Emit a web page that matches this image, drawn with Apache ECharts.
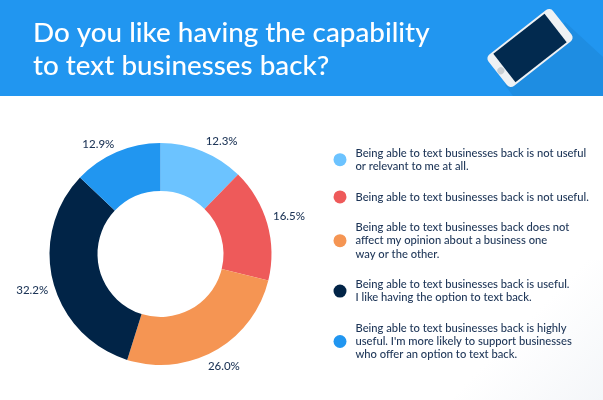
<!DOCTYPE html>
<html><head><meta charset="utf-8">
<style>html,body{margin:0;padding:0;background:#fff}#c{width:603px;height:400px}</style>
<script src="https://cdn.jsdelivr.net/npm/echarts@6/dist/echarts.min.js"></script>
</head><body><div id="c"></div>
<script>
const titleLines = ['Do you like having the capability','to text businesses back?'];
const categories = [
 'Being able to text businesses back is not useful\nor relevant to me at all.',
 'Being able to text businesses back is not useful.',
 'Being able to text businesses back does not\naffect my opinion about a business one\nway or the other.',
 'Being able to text businesses back is useful.\nI like having the option to text back.',
 "Being able to text businesses back is highly\nuseful. I'm more likely to support businesses\nwho offer an option to text back."
];
const values = [12.3,16.5,26.0,32.2,12.9];
const colors = ['#6cc3ff','#ee5a5a','#f59553','#012447','#2196f0'];
const labelNudge = [[-4,-4],[-5,-6],[-15,10],[6,7],[5,-2]];
const ink = '#1d3557';
const font = 'Lato';
const chart = echarts.init(document.getElementById('c'),null,{renderer:'canvas'});
chart.setOption({
 animation:false,
 backgroundColor:'#fff',
 textStyle:{fontFamily:font},
 title:{text:titleLines.join('\n'),left:33,top:17,padding:0,itemGap:0,z:10,
  textStyle:{color:'#fff',fontFamily:font,fontSize:27.8,fontWeight:500,lineHeight:33}},
 legend:{orient:'vertical',left:333.5,top:146.5,padding:0,itemWidth:13,itemHeight:13,itemGap:17.4,icon:'circle',
  selectedMode:false,
  textStyle:{color:ink,fontFamily:font,fontSize:11.2,fontWeight:500,lineHeight:13.2,padding:[0,0,0,4]},
  data:categories},
 graphic:[
  {type:'rect',z:-2,shape:{x:400,y:260,width:203,height:140},
   style:{fill:new echarts.graphic.LinearGradient(0.3,0,1,1,[{offset:0.45,color:'#ffffff'},{offset:1,color:'#f4f6f9'}])}},
  {type:'rect',z:-1,shape:{x:0,y:0,width:603,height:96},style:{fill:'#2196f0'}},
  {type:'polygon',z:0,shape:{points:[[565,22],[603,57],[603,96],[513,96],[505,85]]},style:{fill:'#1e8de2'}},
  {type:'group',x:530,y:48,rotation:38*Math.PI/180,z:1,children:[
   {type:'rect',shape:{x:-41,y:-20,width:82,height:40,r:5},style:{fill:'#eef1f4'}},
   {type:'rect',shape:{x:-32.5,y:-18,width:65,height:36},style:{fill:'#022a4f'}},
   {type:'circle',shape:{cx:-37,cy:0,r:3.5},style:{fill:'#c9ced3'}}
  ]}
 ],
 series:[{type:'pie',center:[160.5,254],radius:[63,111],startAngle:90,clockwise:true,
  silent:true,
  color:colors,
  label:{show:true,position:'outside',color:ink,fontFamily:font,fontSize:11.5,fontWeight:500,
   formatter:p=>p.value.toFixed(1)+'%'},
  labelLine:{show:false,length:6,length2:0},
  labelLayout:p=>({dx:labelNudge[p.dataIndex][0],dy:labelNudge[p.dataIndex][1]}),
  data:categories.map((n,i)=>({name:n,value:values[i]}))
 }]
});
</script></body></html>
